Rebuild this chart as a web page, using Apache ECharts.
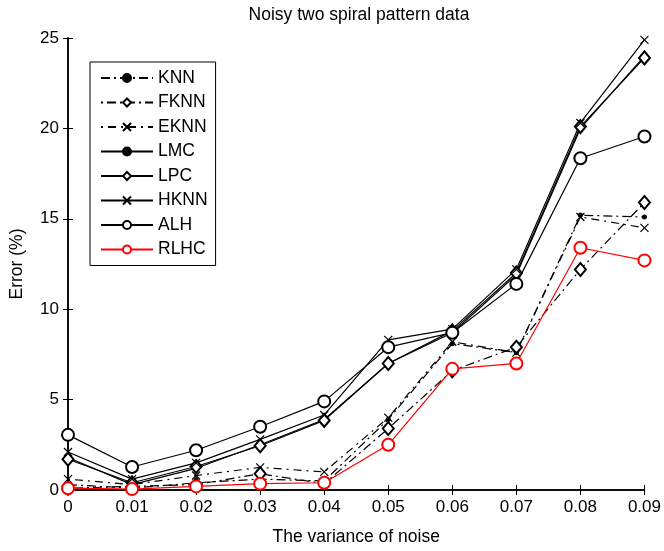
<!DOCTYPE html>
<html>
<head>
<meta charset="utf-8">
<script src="https://cdn.jsdelivr.net/npm/echarts@6/dist/echarts.min.js"></script>
<style>
  html, body { margin: 0; padding: 0; background: #fff; }
  #chart { width: 664px; height: 551px; }
</style>
</head>
<body>
<div id="chart"></div>
<script>
const noiseLevels = [0, 0.01, 0.02, 0.03, 0.04, 0.05, 0.06, 0.07, 0.08, 0.09];

const knn  = [0.3, 0.1, 0.4, 0.6, 0.5, 3.9, 8.1, 7.6, 15.2, 15.1];
const fknn = [0.1, 0.2, 0.3, 0.9, 0.35, 3.4, 6.6, 7.9, 12.2, 15.9];
const eknn = [0.6, 0.3, 0.8, 1.25, 1.0, 4.0, 8.2, 7.6, 15.1, 14.5];
const lmc  = [1.8, 0.3, 1.2, 2.5, 3.9, 7.0, 8.7, 11.9, 20.0, 24.0];
const lpc  = [1.7, 0.4, 1.3, 2.45, 3.85, 7.0, 8.8, 12.0, 20.1, 23.9];
const hknn = [2.1, 0.6, 1.5, 2.8, 4.15, 8.3, 8.9, 12.2, 20.3, 24.9];
const alh  = [3.05, 1.27, 2.2, 3.5, 4.9, 7.9, 8.7, 11.4, 18.35, 19.55];
const rlhc = [0.1, 0.05, 0.2, 0.35, 0.4, 2.5, 6.7, 7.0, 13.4, 12.7];

const font = 'Liberation Sans, Arial, sans-serif';
const cross = 'path://M0,0L10,10M10,0L0,10';

const seriesDefs = [
    { name: 'KNN',  data: knn,  color: '#000', dash: [9, 4, 2, 4], symbol: 'circle', size: 4 },
    { name: 'FKNN', data: fknn, color: '#000', dash: [2, 4, 9, 4], symbol: 'emptyDiamond', size: [11, 13] },
    { name: 'EKNN', data: eknn, color: '#000', dash: [2, 5, 8, 5], symbol: cross, size: 8 },
    { name: 'LMC',  data: lmc,  color: '#000', dash: 'solid', symbol: 'circle', size: 4 },
    { name: 'LPC',  data: lpc,  color: '#000', dash: 'solid', symbol: 'emptyDiamond', size: [11, 13] },
    { name: 'HKNN', data: hknn, color: '#000', dash: 'solid', symbol: cross, size: 8 },
    { name: 'ALH',  data: alh,  color: '#000', dash: 'solid', symbol: 'emptyCircle', size: 12 },
    { name: 'RLHC', data: rlhc, color: '#ff0000', dash: 'solid', symbol: 'emptyCircle', size: 12 }
];

const chart = echarts.init(document.getElementById('chart'));

const axisCommon = {
    axisLine: { lineStyle: { color: '#000', width: 1.5 } },
    axisTick: { inside: true, length: 5, lineStyle: { color: '#000' } },
    splitLine: { show: false }
};

const option = {
    animation: false,
    backgroundColor: '#fff',
    title: {
        text: 'Noisy two spiral pattern data',
        left: 354,
        textAlign: 'center',
        top: 1,
        textStyle: { fontFamily: font, fontSize: 17.5, fontWeight: 'normal', color: '#000' }
    },
    grid: { left: 66, right: 19, top: 38, bottom: 59 },
    legend: {
        orient: 'vertical',
        left: 90,
        top: 62,
        padding: [7, 8, 7, 10],
        itemWidth: 52,
        itemHeight: 10,
        itemGap: 6.5,
        borderColor: '#000',
        borderWidth: 1,
        textStyle: { fontFamily: font, fontSize: 17.5, color: '#000' },
        data: seriesDefs.map(s => s.name)
    },
    xAxis: [
        Object.assign({
            type: 'value', min: 0, max: 0.09, interval: 0.01,
            name: 'The variance of noise',
            nameLocation: 'middle',
            nameGap: 38,
            nameTextStyle: { fontFamily: font, fontSize: 17.5, color: '#000' },
            axisLabel: {
                color: '#000', fontFamily: font, fontSize: 17, margin: 9,
                formatter: v => String(+v.toFixed(2))
            }
        }, axisCommon),
        Object.assign({
            type: 'value', min: 0, max: 0.09, interval: 0.01, position: 'top',
            axisLabel: { show: false }
        }, axisCommon)
    ],
    yAxis: [
        Object.assign({
            type: 'value', min: 0, max: 25, interval: 5,
            name: 'Error (%)',
            nameLocation: 'middle',
            nameGap: 42,
            nameTextStyle: { fontFamily: font, fontSize: 17.5, color: '#000' },
            axisLabel: { color: '#000', fontFamily: font, fontSize: 17, margin: 9 }
        }, axisCommon),
        Object.assign({
            type: 'value', min: 0, max: 25, interval: 5, position: 'right',
            axisLabel: { show: false }
        }, axisCommon)
    ],
    series: seriesDefs.map(s => ({
        name: s.name,
        type: 'line',
        xAxisIndex: 0,
        yAxisIndex: 0,
        data: noiseLevels.map((x, i) => [x, s.data[i]]),
        symbol: s.symbol,
        symbolSize: s.size,
        showAllSymbol: true,
        lineStyle: { color: s.color, width: 1.2, type: s.dash },
        itemStyle: { color: s.color, borderColor: s.color, borderWidth: 1.2 },
        z: s.name === 'RLHC' ? 5 : 2
    }))
};

chart.setOption(option);
</script>
</body>
</html>
